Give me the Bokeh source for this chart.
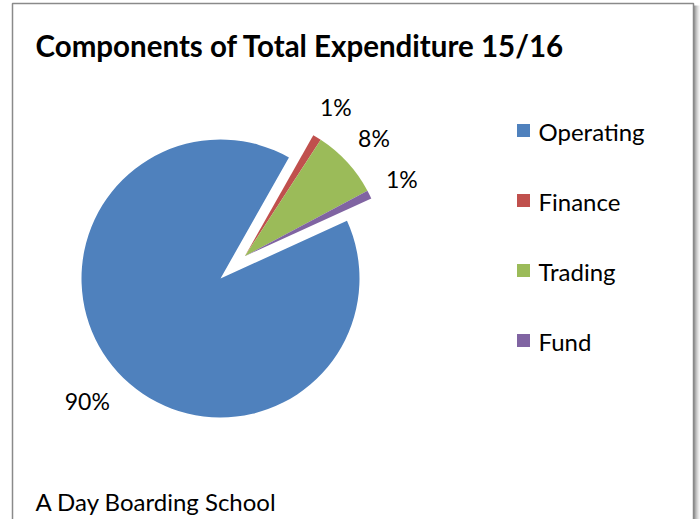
import numpy as np
from bokeh.plotting import figure
from bokeh.models import Range1d, ColumnDataSource
from bokeh.core.properties import value
from bokeh.embed import file_html
from bokeh.resources import INLINE

# ---- data ----
categories = ["Operating", "Finance", "Trading", "Fund"]
shares = [90, 1, 8, 1]
pct_labels = ["90%", "1%", "8%", "1%"]
colors = ["#4F81BD", "#C0504D", "#9BBB59", "#8064A2"]
exploded = [False, True, True, True]
title_text = "Components of Total Expenditure 15/16"
footer_text = "A Day Boarding School"

# ---- layout constants ----
W, H = 700, 519
FONT = "Lato"
cx, cy, R = 220, 241, 139
first_angle = np.deg2rad(24.5)     # start of first slice, slices run clockwise
explode_dist = 33

p = figure(width=W, height=H, x_range=Range1d(0, W), y_range=Range1d(0, H),
           output_backend="svg", toolbar_location=None, min_border=0,
           x_axis_type=None, y_axis_type=None)
p.grid.visible = False
p.outline_line_color = None
p.background_fill_color = "white"
p.border_fill_color = "white"

# chart border with soft right shadow
shadow_x = [694, 695, 696, 697, 698, 699]
shadow_c = ["#9a9a9a", "#b0b0b0", "#c4c4c4", "#d6d6d6", "#e6e6e6", "#f2f2f2"]
p.multi_line(xs=[[x, x] for x in shadow_x], ys=[[-20, 514]] * len(shadow_x),
             line_color=shadow_c, line_width=1)
p.line([12, 12, 693, 693], [-20, 516, 516, -20], line_color="#8a8a8a", line_width=1.5)

vals = np.array(shares, dtype=float)
frac = vals / vals.sum()
cum = np.concatenate([[0], np.cumsum(frac)])
starts = first_angle - cum[:-1] * 2 * np.pi
ends = first_angle - cum[1:] * 2 * np.pi
mids = (starts + ends) / 2

# common explosion direction: bisector of the exploded group
ex_idx = [i for i, e in enumerate(exploded) if e]
grp_mid = (starts[ex_idx[0]] + ends[ex_idx[-1]]) / 2
xs, ys = [], []
for i in range(len(shares)):
    if exploded[i]:
        xs.append(cx + explode_dist * np.cos(grp_mid))
        ys.append(cy + explode_dist * np.sin(grp_mid))
    else:
        xs.append(cx)
        ys.append(cy)

src = ColumnDataSource(dict(x=xs, y=ys, start=starts, end=ends, color=colors))
p.wedge(x="x", y="y", radius=R, start_angle="start", end_angle="end",
        direction="clock", fill_color="color", line_color=None, source=src)

# percentage labels
lab_factor = [1.30 if not e else 1.26 for e in exploded]
lx = [xs[i] + lab_factor[i] * R * np.cos(mids[i]) for i in range(len(shares))]
ly = [ys[i] + lab_factor[i] * R * np.sin(mids[i]) for i in range(len(shares))]
p.text(x=lx, y=ly, text=pct_labels, text_font=value(FONT), text_font_size="23px",
       text_color="#000000", text_align="center", text_baseline="middle")

# legend
leg_x, leg_y0, leg_dy = 523, 389, 70
leg_ys = [leg_y0 - i * leg_dy for i in range(len(categories))]
p.rect(x=[leg_x] * len(categories), y=leg_ys, width=13, height=13,
       fill_color=colors, line_color=None)
p.text(x=[leg_x + 15] * len(categories), y=[v - 1 for v in leg_ys], text=categories,
       text_font=value(FONT), text_font_size="24px", text_color="#000000",
       text_align="left", text_baseline="middle")

# title and footer
p.text(x=[35], y=[474], text=[title_text], text_font=value(FONT), text_font_size="29.5px",
       text_font_style="bold", text_color="#000000", text_align="left",
       text_baseline="alphabetic")
p.text(x=[35], y=[18], text=[footer_text], text_font=value(FONT), text_font_size="24px",
       text_color="#000000", text_align="left", text_baseline="alphabetic")

open("out.html", "w").write(file_html(p, INLINE))
